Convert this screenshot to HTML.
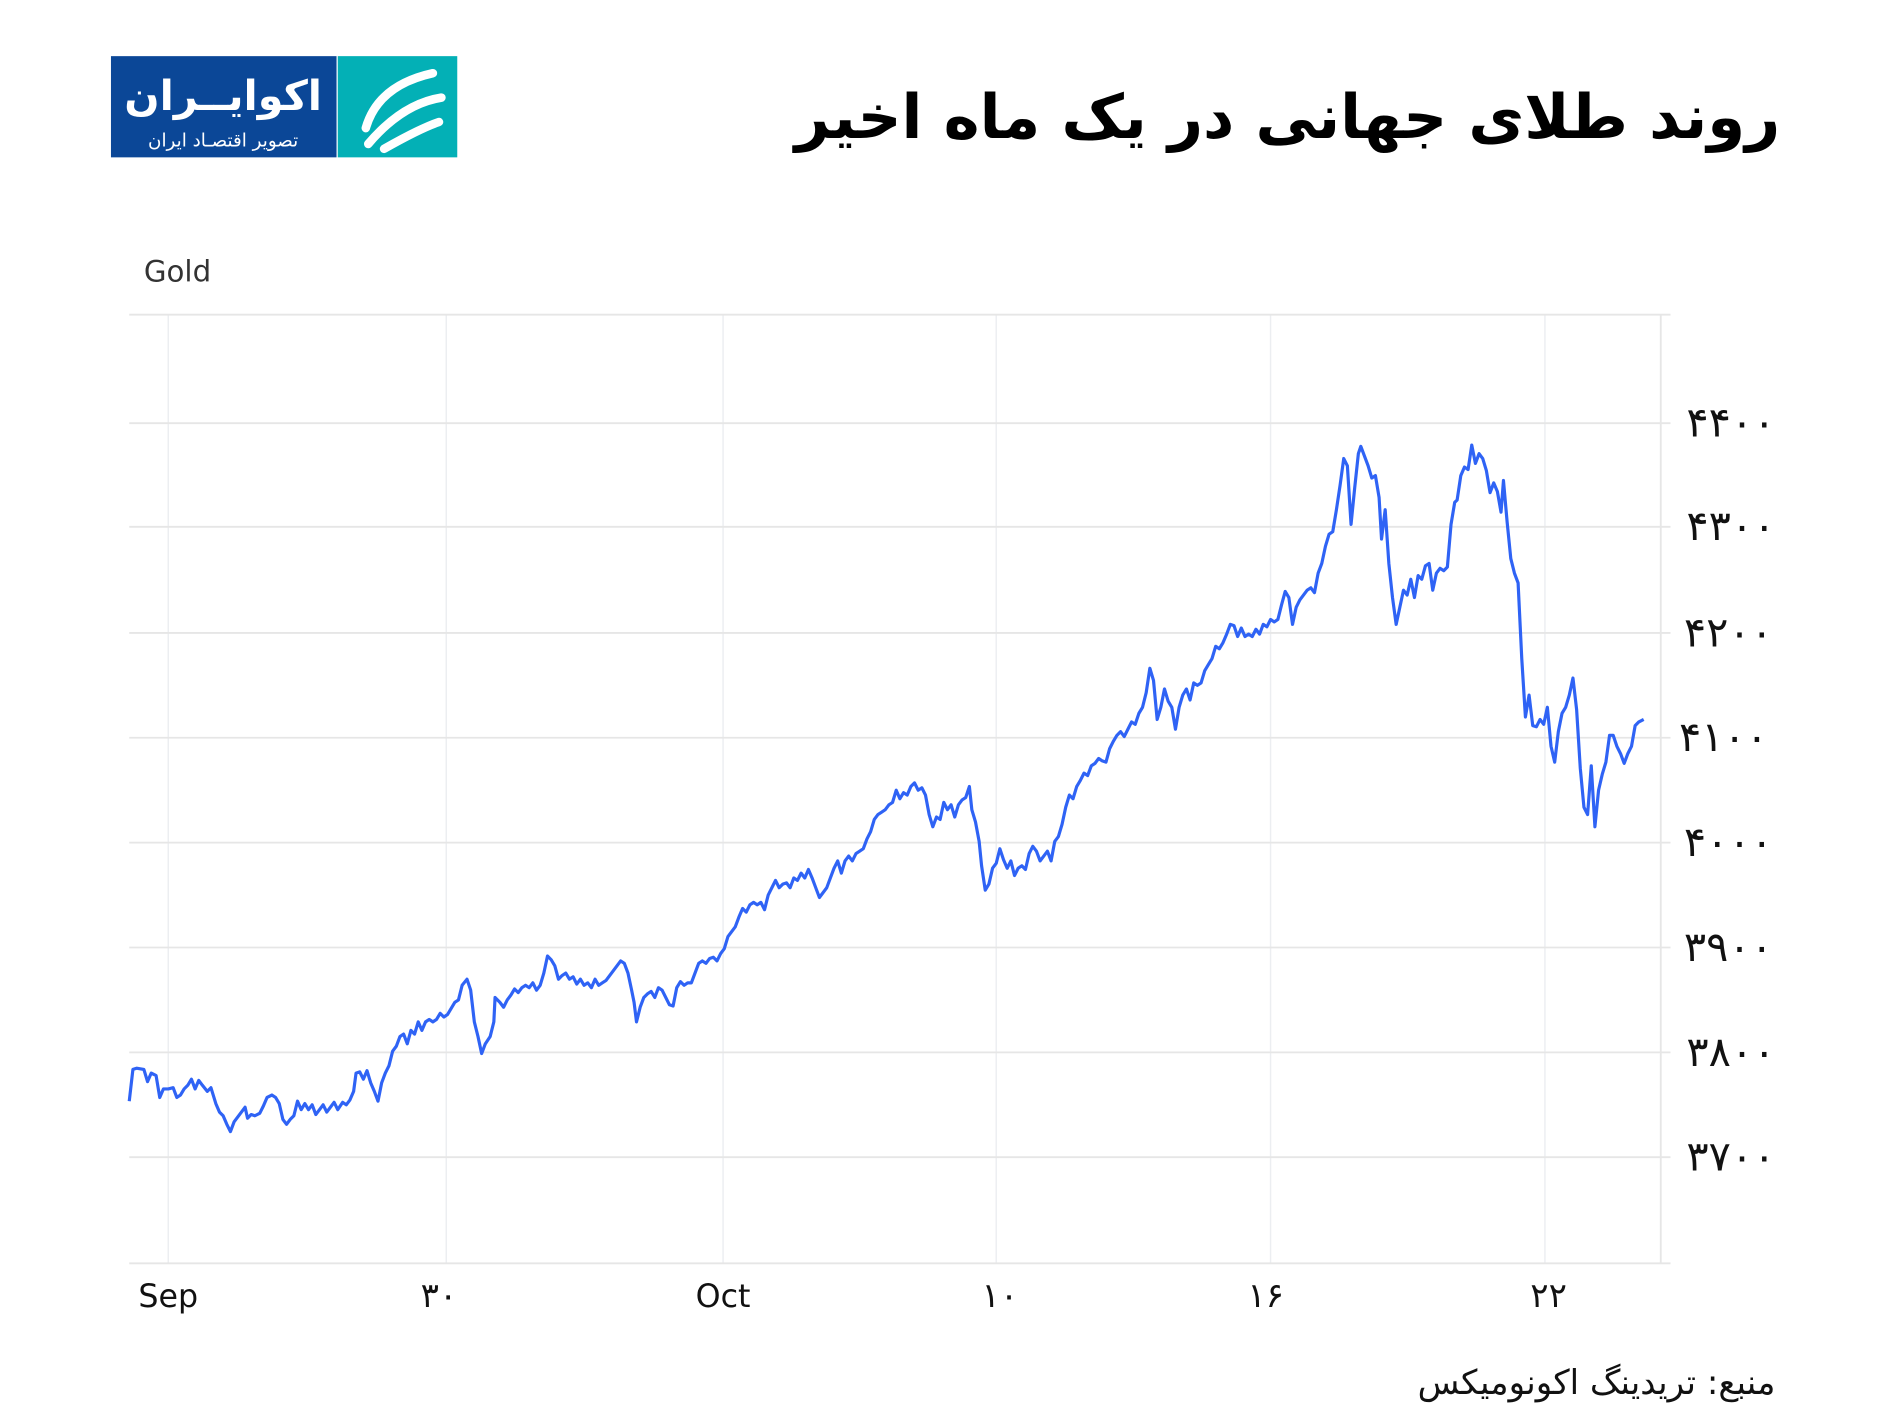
<!DOCTYPE html>
<html><head><meta charset="utf-8"><style>
html,body{margin:0;padding:0;background:#fff;}
svg{display:block;}
text{font-family:"DejaVu Sans","Liberation Sans",sans-serif;}
</style></head><body>
<svg width="1890" height="1417" viewBox="0 0 1550 1162" xmlns="http://www.w3.org/2000/svg">
<rect width="1550" height="1162" fill="#fff"/>
<!-- logo -->
<rect x="91" y="46" width="185" height="83" fill="#0b4797"/>
<rect x="277" y="46" width="98" height="83" fill="#03b0b6"/>
<text x="183" y="90" fill="#fff" font-size="34" font-weight="bold" text-anchor="middle" direction="rtl">اکوایــران</text>
<text x="183" y="120" fill="#fff" font-size="15" text-anchor="middle" direction="rtl">تصویر اقتصـاد ایران</text>
<g fill="none" stroke="#fff" stroke-width="7" stroke-linecap="round">
<path d="M300 105 Q310 70 355 60"/>
<path d="M302 118 Q330 85 362 80"/>
<path d="M315 122 Q345 105 360 100"/>
</g>
<!-- title -->
<text x="1460" y="113" font-size="50" font-weight="bold" text-anchor="start" direction="rtl" fill="#000">روند طلای جهانی در یک ماه اخیر</text>
<text x="118" y="231" font-size="24" fill="#333" font-family="Liberation Sans, sans-serif">Gold</text>
<!-- grid -->
<g stroke="#eceef1" stroke-width="1.2">
<line x1="138" y1="258" x2="138" y2="1036"/><line x1="366" y1="258" x2="366" y2="1036"/>
<line x1="593" y1="258" x2="593" y2="1036"/><line x1="817" y1="258" x2="817" y2="1036"/>
<line x1="1042" y1="258" x2="1042" y2="1036"/><line x1="1267" y1="258" x2="1267" y2="1036"/>
</g>
<g stroke="#e6e6e6" stroke-width="1.5">
<line x1="106" y1="258" x2="1370" y2="258"/>
<line x1="106" y1="347" x2="1370" y2="347"/><line x1="106" y1="432" x2="1370" y2="432"/>
<line x1="106" y1="519" x2="1370" y2="519"/><line x1="106" y1="605" x2="1370" y2="605"/>
<line x1="106" y1="691" x2="1370" y2="691"/><line x1="106" y1="777" x2="1370" y2="777"/>
<line x1="106" y1="863" x2="1370" y2="863"/><line x1="106" y1="949" x2="1370" y2="949"/>
<line x1="106" y1="1036" x2="1370" y2="1036"/>
<line x1="1362" y1="258" x2="1362" y2="1036"/>
</g>
<g font-size="34" fill="#111" text-anchor="end">
<text x="1456" y="358">۴۴۰۰</text><text x="1456" y="443">۴۳۰۰</text>
<text x="1454" y="530">۴۲۰۰</text><text x="1450" y="616">۴۱۰۰</text>
<text x="1454" y="702">۴۰۰۰</text><text x="1454" y="788">۳۹۰۰</text>
<text x="1456" y="874">۳۸۰۰</text><text x="1456" y="960">۳۷۰۰</text>
</g>
<g font-size="28" fill="#111" text-anchor="middle">
<text x="138" y="1072" font-size="26" font-family="Liberation Sans, sans-serif">Sep</text>
<text x="360" y="1072">۳۰</text>
<text x="593" y="1072" font-size="26" font-family="Liberation Sans, sans-serif">Oct</text>
<text x="820" y="1072">۱۰</text>
<text x="1038" y="1072">۱۶</text>
<text x="1270" y="1072">۲۲</text>
</g>
<text x="1456" y="1143" font-size="28" fill="#111" text-anchor="start" direction="rtl">منبع: تریدینگ اکونومیکس</text>
<polyline fill="none" stroke="#2f63f5" stroke-width="2.6" stroke-linejoin="round" points="106,903 109,877 112,876 118,877 121,887 124,880 128,882 131,900 134,893 138,893 142,892 145,900 148,898 151,893 154,890 157,885 160,893 163,886 166,890 170,895 173,892 177,905 180,912 183,915 186,922 189,928 192,920 195,916 198,912 201,908 203,917 206,914 209,915 213,913 216,907 219,900 223,898 226,900 229,905 232,918 235,922 238,918 241,915 244,903 247,910 250,905 253,910 256,906 259,914 262,910 265,906 268,912 271,908 274,904 277,910 281,904 284,906 287,902 290,895 292,880 295,879 298,885 301,878 304,888 307,895 310,903 313,888 316,880 319,874 322,862 325,858 328,850 331,848 334,856 337,845 340,848 343,838 346,845 349,838 352,836 355,838 358,836 361,831 364,834 367,832 370,827 373,822 376,820 379,808 383,803 386,812 389,838 392,850 395,864 398,856 402,850 405,838 406,818 410,822 413,826 416,820 419,816 422,811 425,814 428,810 431,808 434,810 437,806 440,812 443,808 446,798 449,784 452,787 455,792 458,803 461,800 464,798 467,803 470,801 473,807 476,803 479,808 482,806 485,810 488,803 491,808 494,806 497,804 500,800 503,796 506,792 509,788 512,790 515,798 518,812 520,822 522,838 525,826 528,818 531,815 534,813 537,818 540,810 543,812 546,818 549,824 552,825 555,810 558,805 561,808 564,806 567,806 570,798 573,790 576,788 579,790 582,786 585,785 588,788 591,782 594,778 597,768 600,764 603,760 606,752 609,745 612,748 615,742 618,740 621,742 624,740 627,746 630,734 633,728 636,722 639,728 642,725 645,724 648,728 651,720 654,722 657,716 660,720 663,713 666,720 669,728 672,736 675,732 678,728 681,720 684,712 687,706 690,716 693,706 696,702 699,706 702,700 705,698 708,696 711,688 714,682 717,672 720,668 723,666 726,664 729,660 732,658 735,648 738,655 741,650 744,652 747,645 750,642 753,648 756,646 759,652 762,668 765,678 768,670 771,672 774,658 777,664 780,660 783,670 786,660 789,656 792,654 795,645 797,664 800,674 803,690 805,710 808,730 811,725 814,712 817,708 820,696 823,705 826,712 829,706 832,718 835,712 838,710 841,713 844,700 847,694 850,698 853,706 856,702 859,698 862,706 865,690 868,686 871,676 874,662 877,652 880,655 883,645 886,640 889,634 892,636 895,628 898,626 901,622 904,624 907,625 910,614 913,608 916,603 919,600 922,604 925,598 928,592 931,594 934,585 937,580 940,568 943,548 946,558 949,590 952,580 955,565 958,575 961,580 964,598 967,580 970,570 973,565 976,574 979,560 982,562 985,560 988,550 991,545 994,540 997,530 1000,532 1003,527 1006,520 1009,512 1012,513 1015,522 1018,515 1021,522 1024,520 1027,522 1030,516 1033,520 1036,512 1039,514 1042,508 1045,510 1048,508 1051,496 1054,485 1057,490 1060,512 1063,498 1066,492 1069,488 1072,484 1075,482 1078,486 1081,470 1084,462 1087,448 1090,438 1093,436 1096,418 1099,398 1102,376 1105,382 1108,430 1111,400 1114,372 1116,366 1119,374 1122,382 1125,392 1128,390 1131,408 1133,442 1136,418 1139,462 1142,490 1145,512 1148,498 1151,484 1154,488 1157,475 1160,490 1163,472 1166,475 1169,464 1172,462 1175,484 1178,470 1181,466 1184,468 1187,465 1190,430 1193,412 1195,410 1198,390 1201,383 1204,385 1207,365 1210,380 1213,372 1216,376 1219,386 1222,404 1225,396 1228,403 1231,420 1233,394 1236,428 1239,458 1242,470 1245,478 1248,540 1251,588 1254,570 1257,595 1260,596 1263,590 1266,594 1269,580 1272,612 1275,625 1278,600 1281,585 1284,580 1287,570 1290,556 1293,582 1296,630 1299,662 1302,668 1305,628 1308,678 1311,648 1314,635 1317,625 1320,603 1323,603 1326,612 1329,618 1332,626 1335,618 1338,612 1341,595 1344,592 1348,590"/>
</svg>
</body></html>
